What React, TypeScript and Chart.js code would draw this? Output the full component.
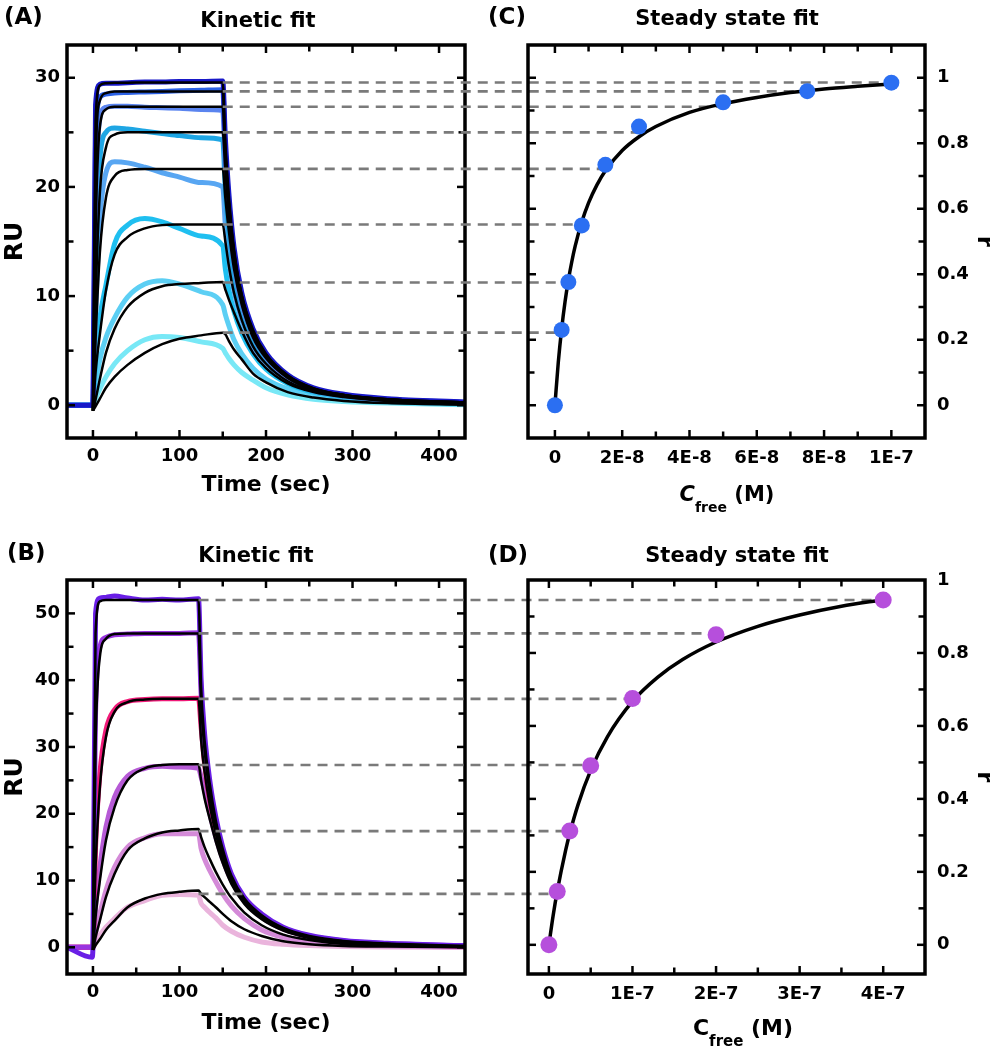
import React, { useEffect, useRef } from "react";
import { Chart, registerables } from "chart.js";
Chart.register(...registerables);

const FONT = "'DejaVu Sans', 'Liberation Sans', sans-serif";

// ---------- Panel A : kinetic fit ----------
const timeA = [-30, -1, 0, 3, 8, 15, 25, 40, 60, 80, 100, 125, 150, 153, 157, 163, 172, 185, 200, 225, 255, 290, 340, 430];
const respA1 = [0, 0, 0, 27.5, 29.4, 29.5, 29.5, 29.55, 29.6, 29.6, 29.65, 29.65, 29.7, 24.5, 19.5, 14.5, 10.3, 7.0, 4.8, 2.8, 1.6, 1.0, 0.6, 0.3];
const respA2 = [0, 0, 0, 24, 28.2, 28.5, 28.6, 28.65, 28.7, 28.75, 28.8, 28.85, 28.9, 23.3, 18.6, 13.8, 9.8, 6.7, 4.6, 2.7, 1.5, 0.95, 0.55, 0.25];
const respA3 = [0, 0, 0, 18, 26.3, 27.3, 27.4, 27.4, 27.3, 27.25, 27.2, 27.1, 27.0, 21.8, 17.4, 13.0, 9.3, 6.4, 4.4, 2.5, 1.45, 0.9, 0.5, 0.25];
const respA4 = [0, 0, 0, 12, 22.5, 25.0, 25.4, 25.3, 25.1, 24.9, 24.7, 24.5, 24.3, 19.8, 15.9, 12.0, 8.7, 6.0, 4.1, 2.4, 1.35, 0.85, 0.5, 0.2];
const respA5 = [0, 0, 0, 8, 17, 21.3, 22.3, 22.2, 21.8, 21.3, 20.9, 20.4, 20.0, 16.5, 13.5, 10.5, 7.8, 5.4, 3.8, 2.2, 1.3, 0.8, 0.45, 0.2];
const respA6 = [0, 0, 0, 4, 8, 11, 14.8, 16.5, 17.1, 16.8, 16.2, 15.5, 14.6, 12.5, 10.6, 8.6, 6.6, 4.7, 3.3, 2.0, 1.2, 0.75, 0.4, 0.15];
const respA7 = [0, 0, 0, 1.8, 4.2, 6.2, 8.0, 9.9, 11.1, 11.4, 11.1, 10.4, 9.2, 8.3, 7.3, 6.0, 4.7, 3.4, 2.4, 1.5, 0.9, 0.55, 0.3, 0.1];
const respA8 = [0, 0, 0, 0.6, 1.5, 2.6, 3.8, 5.0, 6.0, 6.3, 6.2, 5.8, 5.2, 4.8, 4.3, 3.7, 3.0, 2.3, 1.6, 0.95, 0.55, 0.35, 0.2, 0.05];

const fitA1 = [null, null, -0.5, 26, 29.3, 29.5, 29.55, 29.55, 29.57, 29.57, 29.57, 29.57, 29.57, 24.0, 19.2, 14.3, 10.1, 6.9, 4.7, 2.75, 1.55, 0.95, 0.55, 0.25];
const fitA2 = [null, null, -0.5, 22, 27.9, 28.6, 28.75, 28.75, 28.75, 28.75, 28.75, 28.75, 28.75, 23.5, 18.7, 14.1, 10.0, 6.8, 4.6, 2.7, 1.55, 0.95, 0.55, 0.25];
const fitA3 = [null, null, -0.5, 16, 25.5, 27.1, 27.35, 27.35, 27.35, 27.35, 27.35, 27.35, 27.35, 23.0, 18.5, 14.0, 10.0, 6.7, 4.6, 2.65, 1.5, 0.95, 0.55, 0.25];
const fitA4 = [null, null, -0.5, 9.5, 19.5, 23.6, 24.8, 25.0, 25.0, 25.0, 25.0, 25.0, 25.0, 21.5, 17.5, 13.5, 9.7, 6.5, 4.5, 2.6, 1.5, 0.9, 0.5, 0.2];
const fitA5 = [null, null, -0.5, 6, 14, 19.0, 21.0, 21.55, 21.65, 21.65, 21.65, 21.65, 21.65, 19.0, 16.0, 12.5, 9.2, 6.2, 4.3, 2.5, 1.4, 0.9, 0.5, 0.2];
const fitA6 = [null, null, -0.5, 3, 6.5, 10.5, 13.8, 15.4, 16.2, 16.5, 16.55, 16.56, 16.56, 15.0, 12.8, 10.3, 7.8, 5.4, 3.8, 2.2, 1.3, 0.8, 0.45, 0.15];
const fitA7 = [null, null, -0.5, 0.5, 2.4, 4.8, 7.0, 9.0, 10.3, 10.9, 11.1, 11.2, 11.3, 10.6, 9.7, 8.5, 6.8, 4.8, 3.4, 2.0, 1.2, 0.75, 0.4, 0.15];
const fitA8 = [null, null, -0.5, -0.1, 0.6, 1.6, 2.6, 3.7, 4.8, 5.6, 6.1, 6.4, 6.65, 6.5, 5.9, 5.1, 4.2, 2.9, 2.1, 1.2, 0.7, 0.4, 0.2, 0.05];

const colorsA = ["#1818c8", "#2c62e6", "#5a84ef", "#1ea6e4", "#58a6f2", "#1fbff0", "#5ccff4", "#78e8f6"];
const reqA = [29.57, 28.75, 27.35, 25.0, 21.65, 16.56, 11.25, 6.65];
const injectionEndA = 150;

// ---------- Panel B : kinetic fit ----------
const timeB = [-30, -1, 0, 3, 8, 15, 25, 40, 60, 80, 100, 122, 125, 129, 135, 142, 150, 160, 175, 195, 220, 250, 290, 340, 430];
const respB1 = [0, -1.5, 0, 50, 52.3, 52.4, 52.6, 52.3, 52.0, 52.1, 52.0, 52.2, 40, 32, 25, 19.5, 15, 11, 7.5, 5.0, 3.0, 1.8, 1.0, 0.6, 0.25];
const respB2 = [0, 0, 0, 35, 45, 46.4, 46.8, 46.9, 47.0, 47.0, 47.0, 47.1, 38, 30.5, 23.8, 18.7, 14.5, 10.7, 7.3, 4.8, 2.9, 1.7, 0.95, 0.55, 0.2];
const respB3 = [0, 0, 0, 15, 26, 32.5, 35.6, 36.8, 37.1, 37.2, 37.2, 37.3, 33, 27.5, 22, 17.8, 14.0, 10.4, 7.1, 4.6, 2.8, 1.65, 0.9, 0.5, 0.15];
const respB4 = [0, 0, 0, 6, 12, 18, 22.5, 25.6, 26.8, 27.1, 27.0, 26.8, 25.5, 23.5, 20.0, 16.5, 13.2, 10.0, 6.9, 4.5, 2.7, 1.6, 0.85, 0.45, 0.15];
const respB5 = [0, 0, 0, 2, 5, 8.5, 12, 15.0, 16.4, 17.0, 17.0, 17.0, 14.8, 13.2, 11.5, 9.8, 8.0, 6.2, 4.3, 2.6, 1.5, 0.85, 0.4, 0.2, 0.05];
const respB6 = [0, 0, 0, 0.8, 1.8, 3.0, 4.3, 6.0, 7.0, 7.8, 7.9, 7.8, 6.6, 6.0, 5.2, 4.4, 3.3, 2.4, 1.5, 0.8, 0.45, 0.25, 0.12, 0.05, 0];

const fitB1 = [null, null, -0.4, 47, 51.8, 52.0, 52.0, 52.0, 52.0, 52.0, 52.0, 52.0, 39, 31, 24.5, 19, 14.7, 10.7, 7.3, 4.8, 2.9, 1.7, 0.95, 0.55, 0.2];
const fitB2 = [null, null, -0.4, 30, 43.5, 46.2, 46.9, 47.0, 47.0, 47.0, 47.0, 47.0, 36.5, 29.5, 23, 18, 14, 10.3, 7.0, 4.6, 2.8, 1.6, 0.9, 0.5, 0.2];
const fitB3 = [null, null, -0.4, 12, 24, 31.5, 35.3, 36.7, 37.1, 37.2, 37.2, 37.2, 31, 26.3, 21.3, 17, 13.2, 9.8, 6.7, 4.4, 2.6, 1.5, 0.8, 0.4, 0.1];
const fitB4 = [null, null, -0.4, 4.5, 10, 16, 21, 25, 26.8, 27.3, 27.4, 27.4, 25, 22.3, 19.2, 15.8, 12.6, 9.5, 6.5, 4.2, 2.5, 1.4, 0.7, 0.35, 0.1];
const fitB5 = [null, null, -0.4, 1.5, 4.0, 7.5, 11.0, 14.5, 16.3, 17.2, 17.5, 17.7, 16.5, 15.0, 13.2, 11.3, 9.4, 7.4, 5.2, 3.3, 1.9, 1.1, 0.5, 0.25, 0.05];
const fitB6 = [null, null, -0.4, 0.3, 1.2, 2.6, 4.0, 6.0, 7.3, 8.0, 8.3, 8.5, 8.0, 7.5, 6.8, 6.0, 5.0, 3.9, 2.7, 1.7, 0.9, 0.45, 0.2, 0.1, 0];

const colorsB = ["#6a1fe6", "#9a35e0", "#f01a78", "#b65ad6", "#d48ad8", "#eab4dc"];
const reqB = [52.0, 47.0, 37.2, 27.3, 17.4, 8.0];
const injectionEndB = 122;

// ---------- Panel C : steady state fit ----------
const cFreeC = [0, 2e-9, 4e-9, 8e-9, 1.5e-8, 2.5e-8, 5e-8, 7.5e-8, 1e-7];
const rC = [0, 0.23, 0.376, 0.549, 0.734, 0.851, 0.925, 0.959, 0.985];
const fitCx = [0, 1e-9, 2e-9, 3e-9, 4e-9, 5e-9, 6e-9, 8e-9, 1e-8, 1.25e-8, 1.5e-8, 2e-8, 2.5e-8, 3e-8, 4e-8, 5e-8, 6e-8, 7e-8, 8e-8, 9e-8, 1e-7];
const fitCy = [0, 0.131, 0.233, 0.315, 0.382, 0.4375, 0.485, 0.56, 0.618, 0.673, 0.716, 0.778, 0.82, 0.851, 0.894, 0.921, 0.94, 0.955, 0.966, 0.974, 0.981];
const cTickValues = [0, 2e-8, 4e-8, 6e-8, 8e-8, 1e-7];
const cTickLabels = ["0", "2E-8", "4E-8", "6E-8", "8E-8", "1E-7"];

// ---------- Panel D : steady state fit ----------
const cFreeD = [0, 1e-8, 2.5e-8, 5e-8, 1e-7, 2e-7, 4e-7];
const rD = [0, 0.146, 0.312, 0.491, 0.675, 0.85, 0.945];
const fitDx = [0, 5e-9, 1e-8, 2e-8, 2.5e-8, 3.5e-8, 5e-8, 7e-8, 1e-7, 1.3e-7, 1.6e-7, 2e-7, 2.5e-7, 3e-7, 3.5e-7, 4e-7];
const fitDy = [0, 0.079, 0.147, 0.259, 0.306, 0.385, 0.478, 0.57, 0.667, 0.733, 0.782, 0.83, 0.873, 0.904, 0.928, 0.946];
const dTickValues = [0, 1e-7, 2e-7, 3e-7, 4e-7];
const dTickLabels = ["0", "1E-7", "2E-7", "3E-7", "4E-7"];

const timeTickLabels = [0, 100, 200, 300, 400];
const ruTickLabelsA = [0, 10, 20, 30];
const ruTickLabelsB = [0, 10, 20, 30, 40, 50];
const rTickLabels = [0, 0.2, 0.4, 0.6, 0.8, 1];

const tickFont = { family: FONT, size: 18, weight: "bold" as const };
const titleFont = { family: FONT, size: 22, weight: "bold" as const };

const framePlugin = {
  id: "frame",
  afterDatasetsDraw(chart: any) {
    const { ctx, chartArea: a } = chart;
    ctx.save();
    ctx.strokeStyle = "#000";
    ctx.lineWidth = 2.5;
    const xs = chart.scales.x;
    const ys = chart.scales.y;
    const seg = (x1: number, y1: number, x2: number, y2: number) => {
      ctx.beginPath();
      ctx.moveTo(x1, y1);
      ctx.lineTo(x2, y2);
      ctx.stroke();
    };
    xs.ticks.forEach((t: any) => {
      const p = xs.getPixelForValue(t.value);
      if (p < a.left + 2 || p > a.right - 2) return;
      const L = t.label ? 8 : 6.5;
      seg(p, a.bottom, p, a.bottom - L);
      seg(p, a.top, p, a.top + L);
    });
    ys.ticks.forEach((t: any) => {
      const p = ys.getPixelForValue(t.value);
      if (p < a.top + 2 || p > a.bottom - 2) return;
      const L = t.label ? 8 : 6.5;
      seg(a.left, p, a.left + L, p);
      seg(a.right, p, a.right - L, p);
    });
    ctx.lineWidth = 3.5;
    ctx.strokeRect(a.left, a.top, a.right - a.left, a.bottom - a.top);
    ctx.restore();
  },
};

const near = (list: number[], v: number, tol: number) => list.findIndex((l) => Math.abs(l - v) < tol);

function kineticChart(
  canvas: HTMLCanvasElement,
  time: number[],
  resp: number[][],
  fits: (number | null)[][],
  colors: string[],
  yMin: number,
  yMax: number,
  yLabels: number[],
  padTop: number,
  xAxisHeight: number,
  titlePadBottom: number
) {
  const datasets: any[] = [
    ...fits.map((f) => ({
      data: time.map((x, i) => ({ x, y: f[i] })),
      borderColor: "#000",
      borderWidth: 2.5,
      pointRadius: 0,
      cubicInterpolationMode: "monotone",
    })),
    ...resp.map((d, k) => ({
      data: time.map((x, i) => ({ x, y: d[i] })),
      borderColor: colors[k],
      borderWidth: 5,
      pointRadius: 0,
      cubicInterpolationMode: "monotone",
    })),
  ];
  return new Chart(canvas, {
    type: "line",
    data: { datasets },
    plugins: [framePlugin],
    options: {
      animation: false,
      responsive: false,
      events: [],
      layout: { padding: { top: padTop, right: 35, left: 0, bottom: 0 } },
      plugins: { legend: { display: false }, tooltip: { enabled: false } },
      scales: {
        x: {
          type: "linear",
          min: -30,
          max: 430,
          grid: { display: false, drawTicks: false },
          border: { display: false },
          ticks: {
            stepSize: 50,
            includeBounds: false,
            autoSkip: false,
            maxRotation: 0,
            padding: 8,
            color: "#000",
            font: tickFont,
            callback: (v: any) => (timeTickLabels.includes(v) ? String(v) : ""),
          },
          title: { display: true, text: "Time (sec)", color: "#000", font: titleFont, padding: { top: 0, bottom: titlePadBottom } },
          afterFit: (s: any) => {
            s.height = xAxisHeight;
          },
        },
        y: {
          type: "linear",
          min: yMin,
          max: yMax,
          grid: { display: false, drawTicks: false },
          border: { display: false },
          ticks: {
            stepSize: 5,
            includeBounds: false,
            autoSkip: false,
            padding: 7,
            color: "#000",
            font: tickFont,
            callback: (v: any) => (yLabels.includes(v) ? String(v) : ""),
          },
          title: { display: true, text: "RU", color: "#000", font: { family: FONT, size: 25, weight: "bold" }, padding: { top: 0, bottom: 0 } },
          afterFit: (s: any) => {
            s.width = 67;
          },
        },
      },
    } as any,
  });
}

function steadyChart(
  canvas: HTMLCanvasElement,
  px: number[],
  py: number[],
  fx: number[],
  fy: number[],
  color: string,
  radius: number,
  xMin: number,
  xMax: number,
  xStep: number,
  xTickValues: number[],
  xTickLabels: string[],
  yMin: number,
  yMax: number,
  padTop: number,
  xAxisHeight: number,
  xPad: number,
  guide: { src: Chart; req: number[]; tEnd: number }
) {
  const guidePlugin = {
    id: "guides",
    beforeDatasetsDraw(chart: any) {
      const src: any = guide.src;
      const ctx = chart.ctx;
      const x0 = src.scales.x.getPixelForValue(guide.tEnd);
      ctx.save();
      ctx.setLineDash([10, 7]);
      ctx.strokeStyle = "#7a7a7a";
      ctx.lineWidth = 2.6;
      guide.req.forEach((v, i) => {
        const y = src.scales.y.getPixelForValue(v);
        const x1 = chart.scales.x.getPixelForValue(px[px.length - 1 - i]);
        ctx.beginPath();
        ctx.moveTo(x0, y);
        ctx.lineTo(x1, y);
        ctx.stroke();
      });
      ctx.restore();
    },
  };
  return new Chart(canvas, {
    type: "line",
    data: {
      datasets: [
        {
          data: px.map((x, i) => ({ x, y: py[i] })),
          showLine: false,
          pointRadius: radius,
          pointBackgroundColor: color,
          pointBorderWidth: 0,
          borderColor: color,
        },
        {
          data: fx.map((x, i) => ({ x, y: fy[i] })),
          borderColor: "#000",
          borderWidth: 3.5,
          pointRadius: 0,
          cubicInterpolationMode: "monotone",
        },
      ],
    },
    plugins: [guidePlugin, framePlugin],
    options: {
      animation: false,
      responsive: false,
      events: [],
      layout: { padding: { top: padTop, right: 0, left: 528, bottom: 0 } },
      plugins: { legend: { display: false }, tooltip: { enabled: false } },
      scales: {
        x: {
          type: "linear",
          min: xMin,
          max: xMax,
          grid: { display: false, drawTicks: false },
          border: { display: false },
          ticks: {
            stepSize: xStep,
            includeBounds: false,
            autoSkip: false,
            maxRotation: 0,
            padding: xPad,
            color: "#000",
            font: tickFont,
            callback: (v: any) => {
              const k = near(xTickValues, v, xStep * 1e-3);
              return k >= 0 ? xTickLabels[k] : "";
            },
          },
          afterFit: (s: any) => {
            s.height = xAxisHeight;
          },
        },
        y: {
          type: "linear",
          position: "right",
          min: yMin,
          max: yMax,
          grid: { display: false, drawTicks: false },
          border: { display: false },
          ticks: {
            stepSize: 0.1,
            includeBounds: false,
            autoSkip: false,
            padding: 12,
            color: "#000",
            font: tickFont,
            callback: (v: any) => {
              const k = near(rTickLabels, v, 1e-6);
              return k >= 0 ? String(rTickLabels[k]) : "";
            },
          },
          title: { display: true, text: "r", color: "#000", font: titleFont, padding: { top: 0, bottom: 0 } },
          afterFit: (s: any) => {
            s.width = 72;
          },
        },
      },
    } as any,
  });
}

const abs = (left: number, top: number, size: number, extra: any = {}) => ({
  position: "absolute" as const,
  left,
  top,
  fontSize: size,
  lineHeight: 1,
  fontWeight: "bold" as const,
  whiteSpace: "nowrap" as const,
  color: "#000",
  ...extra,
});

export default function App() {
  const refA = useRef<HTMLCanvasElement>(null);
  const refB = useRef<HTMLCanvasElement>(null);
  const refC = useRef<HTMLCanvasElement>(null);
  const refD = useRef<HTMLCanvasElement>(null);

  useEffect(() => {
    const chartA = kineticChart(
      refA.current!,
      timeA,
      [respA1, respA2, respA3, respA4, respA5, respA6, respA7, respA8],
      [fitA1, fitA2, fitA3, fitA4, fitA5, fitA6, fitA7, fitA8],
      colorsA,
      -3,
      33,
      ruTickLabelsA,
      45,
      82,
      22
    );
    const chartC = steadyChart(
      refC.current!,
      cFreeC,
      rC,
      fitCx,
      fitCy,
      "#2b6ff2",
      8,
      -0.8e-8,
      1.1e-7,
      1e-8,
      cTickValues,
      cTickLabels,
      -0.1,
      1.1,
      45,
      82,
      10,
      { src: chartA, req: reqA, tEnd: injectionEndA }
    );
    const chartB = kineticChart(
      refB.current!,
      timeB,
      [respB1, respB2, respB3, respB4, respB5, respB6],
      [fitB1, fitB2, fitB3, fitB4, fitB5, fitB6],
      colorsB,
      -4,
      55,
      ruTickLabelsB,
      60,
      76,
      14
    );
    const chartD = steadyChart(
      refD.current!,
      cFreeD,
      rD,
      fitDx,
      fitDy,
      "#b64fdc",
      8.5,
      -0.25e-7,
      4.5e-7,
      0.5e-7,
      dTickValues,
      dTickLabels,
      -0.08,
      1.0,
      60,
      76,
      10,
      { src: chartB, req: reqB, tEnd: injectionEndB }
    );
    return () => {
      chartC.destroy();
      chartA.destroy();
      chartD.destroy();
      chartB.destroy();
    };
  }, []);

  return (
    <div style={{ position: "absolute", left: 0, top: 0, width: 997, height: 1050, background: "#fff", fontFamily: FONT, overflow: "hidden" }}>
      <canvas ref={refA} width={500} height={520} style={{ position: "absolute", left: 0, top: 0 }} />
      <canvas ref={refC} width={997} height={520} style={{ position: "absolute", left: 0, top: 0 }} />
      <canvas ref={refB} width={500} height={530} style={{ position: "absolute", left: 0, top: 520 }} />
      <canvas ref={refD} width={997} height={530} style={{ position: "absolute", left: 0, top: 520 }} />

      <div style={abs(4, 5, 23)}>(A)</div>
      <div style={abs(258, 10, 21, { transform: "translateX(-50%)" })}>Kinetic fit</div>
      <div style={abs(488, 5, 23)}>(C)</div>
      <div style={abs(727, 8, 21, { transform: "translateX(-50%)" })}>Steady state fit</div>
      <div style={abs(727, 484, 21, { transform: "translateX(-50%)" })}>
        <i>C</i>
        <span style={{ fontSize: 14, position: "relative", top: 11 }}>free</span> (M)
      </div>

      <div style={abs(7, 541, 23)}>(B)</div>
      <div style={abs(256, 545, 21, { transform: "translateX(-50%)" })}>Kinetic fit</div>
      <div style={abs(488, 543, 23)}>(D)</div>
      <div style={abs(737, 545, 21, { transform: "translateX(-50%)" })}>Steady state fit</div>
      <div style={abs(743, 1017, 22, { transform: "translateX(-50%)" })}>
        C<span style={{ fontSize: 15, position: "relative", top: 11 }}>free</span> (M)
      </div>
    </div>
  );
}
